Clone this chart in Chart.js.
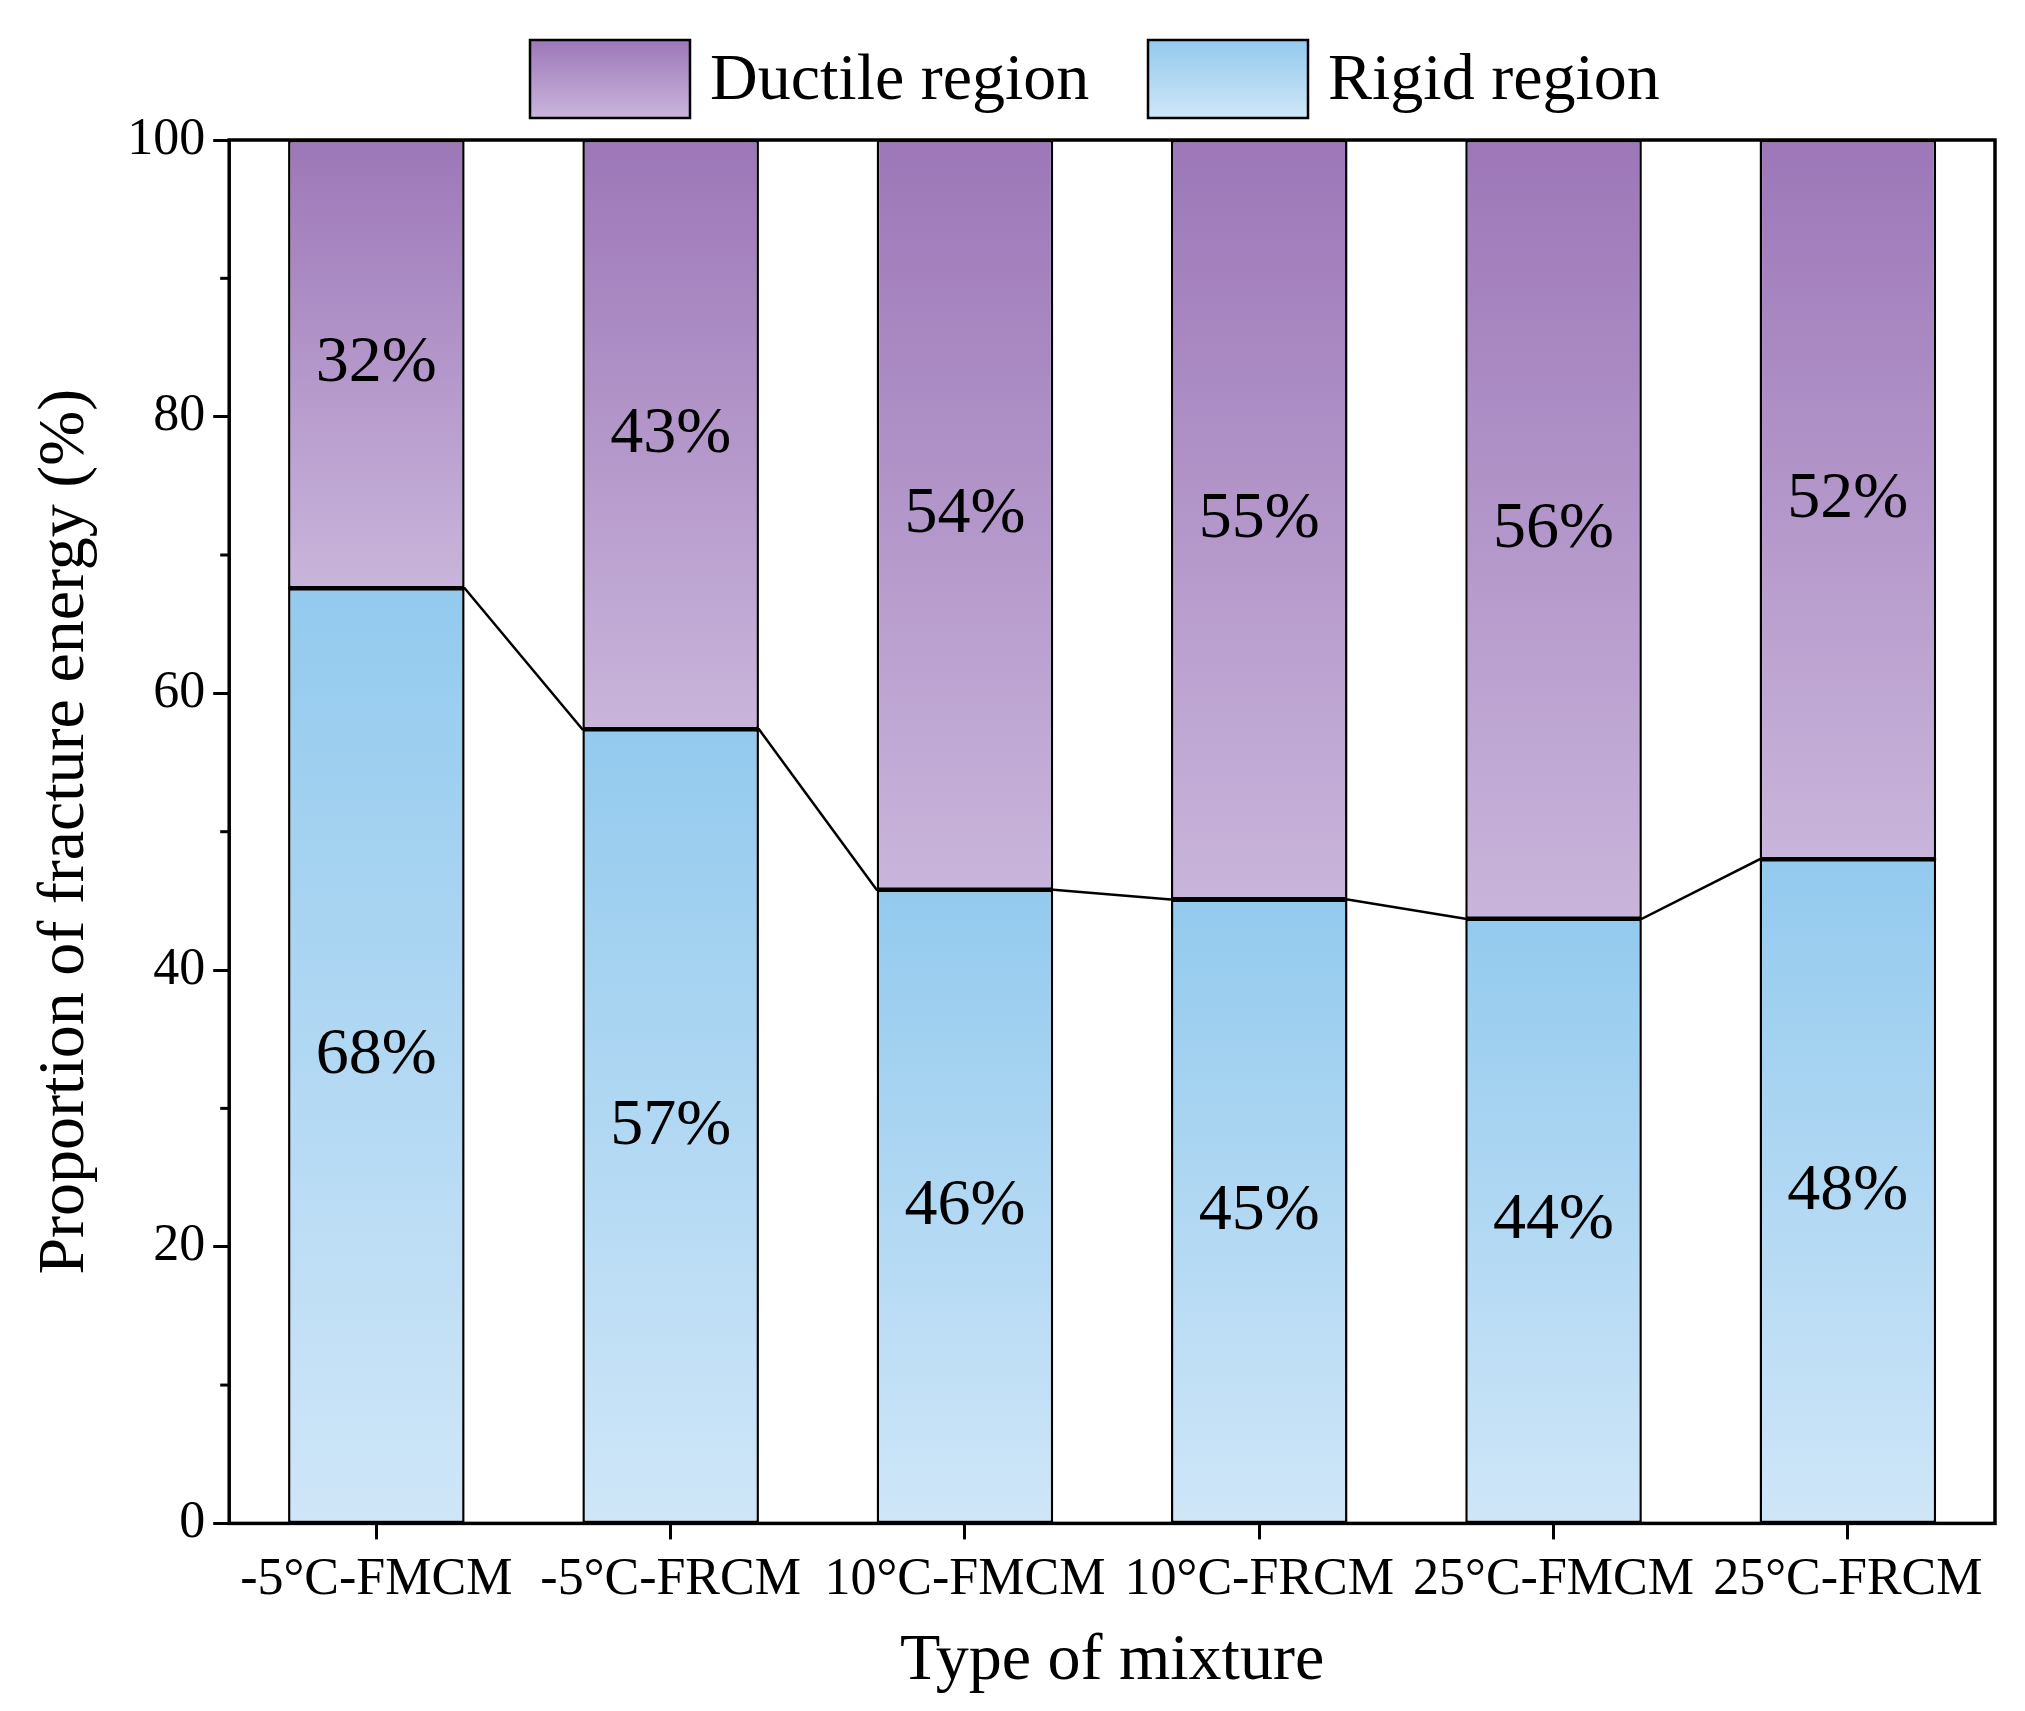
<!DOCTYPE html>
<html>
<head>
<meta charset="utf-8">
<script src="https://cdn.jsdelivr.net/npm/chart.js@4.4.1/dist/chart.umd.min.js"></script>
<style>
  html, body { margin: 0; padding: 0; background: #fff; }
  #wrap { width: 2025px; height: 1711px; }
</style>
</head>
<body>
<div id="wrap"><canvas id="chart"></canvas></div>
<script>
// Data
const categories = ['-5°C-FMCM', '-5°C-FRCM', '10°C-FMCM', '10°C-FRCM', '25°C-FMCM', '25°C-FRCM'];
const rigidValues = [67.6, 57.4, 45.8, 45.1, 43.7, 48.0];
const ductileValues = [32.4, 42.6, 54.2, 54.9, 56.3, 52.0];
const rigidLabels = ['68%', '57%', '46%', '45%', '44%', '48%'];
const ductileLabels = ['32%', '43%', '54%', '55%', '56%', '52%'];
const yTicks = [0, 20, 40, 60, 80, 100];

const FONT = '"Liberation Serif", "Times New Roman", serif';

function segGradient(ctx, top, bottom, c1, c2) {
    const g = ctx.createLinearGradient(0, top, 0, bottom);
    g.addColorStop(0, c1);
    g.addColorStop(1, c2);
    return g;
}

function rigidFill(context) {
    const chart = context.chart;
    if (!chart.chartArea) return '#a8d4f2';
    const y = chart.scales.y;
    const i = context.dataIndex;
    return segGradient(chart.ctx, y.getPixelForValue(rigidValues[i]), y.getPixelForValue(0), '#93caee', '#cfe6f8');
}

function ductileFill(context) {
    const chart = context.chart;
    if (!chart.chartArea) return '#b49bcb';
    const y = chart.scales.y;
    const i = context.dataIndex;
    return segGradient(chart.ctx, y.getPixelForValue(100), y.getPixelForValue(rigidValues[i]), '#9d77b8', '#c9b5db');
}

// Frame, minor ticks, connecting line, value labels and legend
const decorPlugin = {
    id: 'decor',
    afterDatasetsDraw(chart) {
        const ctx = chart.ctx;
        const area = chart.chartArea;
        const y = chart.scales.y;
        const meta = chart.getDatasetMeta(0);

        // connecting line between rigid tops
        ctx.save();
        ctx.strokeStyle = '#000';
        ctx.lineWidth = 2.5;
        ctx.beginPath();
        meta.data.forEach((bar, i) => {
            const half = bar.width / 2;
            const py = y.getPixelForValue(rigidValues[i]);
            if (i === 0) ctx.moveTo(bar.x - half, py);
            else ctx.lineTo(bar.x - half, py);
            ctx.lineTo(bar.x + half, py);
        });
        ctx.stroke();

        // value labels
        ctx.fillStyle = '#000';
        ctx.font = '66px ' + FONT;
        ctx.textAlign = 'center';
        ctx.textBaseline = 'middle';
        meta.data.forEach((bar, i) => {
            const r = rigidValues[i];
            ctx.fillText(rigidLabels[i], bar.x, y.getPixelForValue(r / 2));
            ctx.fillText(ductileLabels[i], bar.x, y.getPixelForValue(r + ductileValues[i] / 2));
        });

        // frame
        ctx.lineWidth = 3.5;
        ctx.strokeRect(area.left, area.top, area.right - area.left, area.bottom - area.top);

        // minor y ticks
        ctx.lineWidth = 3;
        for (let v = 10; v < 100; v += 20) {
            const py = y.getPixelForValue(v);
            ctx.beginPath();
            ctx.moveTo(area.left, py);
            ctx.lineTo(area.left - 9, py);
            ctx.stroke();
        }

        // legend
        const items = [
            { text: 'Ductile region', c1: '#9d77b8', c2: '#c9b5db', bx: 530 },
            { text: 'Rigid region', c1: '#93caee', c2: '#cfe6f8', bx: 1148 }
        ];
        items.forEach(it => {
            ctx.fillStyle = segGradient(ctx, 40, 118, it.c1, it.c2);
            ctx.fillRect(it.bx, 40, 160, 78);
            ctx.lineWidth = 2.5;
            ctx.strokeStyle = '#000';
            ctx.strokeRect(it.bx, 40, 160, 78);
            ctx.fillStyle = '#000';
            ctx.font = '66px ' + FONT;
            ctx.textAlign = 'left';
            ctx.textBaseline = 'middle';
            ctx.fillText(it.text, it.bx + 180, 82);
        });
        ctx.restore();
    }
};

const ctx = document.getElementById('chart').getContext('2d');
new Chart(ctx, {
    type: 'bar',
    data: {
        labels: categories,
        datasets: [
            {
                label: 'Rigid region',
                data: rigidValues,
                backgroundColor: rigidFill,
                borderColor: '#000',
                borderWidth: 2.5,
                borderSkipped: false
            },
            {
                label: 'Ductile region',
                data: ductileValues,
                backgroundColor: ductileFill,
                borderColor: '#000',
                borderWidth: 2.5,
                borderSkipped: false
            }
        ]
    },
    options: {
        responsive: true,
        maintainAspectRatio: false,
        animation: false,
        devicePixelRatio: 1,
        layout: { padding: { top: 140, right: 30, left: 22, bottom: 6 } },
        datasets: { bar: { categoryPercentage: 1, barPercentage: 0.6 } },
        plugins: {
            legend: { display: false },
            tooltip: { enabled: false }
        },
        scales: {
            x: {
                stacked: true,
                grid: { drawOnChartArea: false, tickLength: 16, tickWidth: 3, tickColor: '#000', offset: false },
                border: { display: false },
                ticks: { color: '#000', font: { family: FONT, size: 52 }, padding: 10, maxRotation: 0, autoSkip: false },
                title: { display: true, text: 'Type of mixture', color: '#000', font: { family: FONT, size: 66 }, padding: { top: 0 } }
            },
            y: {
                stacked: true,
                min: 0,
                max: 100,
                afterBuildTicks(axis) { axis.ticks = yTicks.map(v => ({ value: v })); },
                grid: { drawOnChartArea: false, tickLength: 16, tickWidth: 3, tickColor: '#000' },
                border: { display: false },
                ticks: { color: '#000', font: { family: FONT, size: 52 }, padding: 8 },
                title: { display: true, text: 'Proportion of fracture energy (%)', color: '#000', font: { family: FONT, size: 66 }, padding: { bottom: 14 } }
            }
        }
    },
    plugins: [decorPlugin]
});
</script>
</body>
</html>
